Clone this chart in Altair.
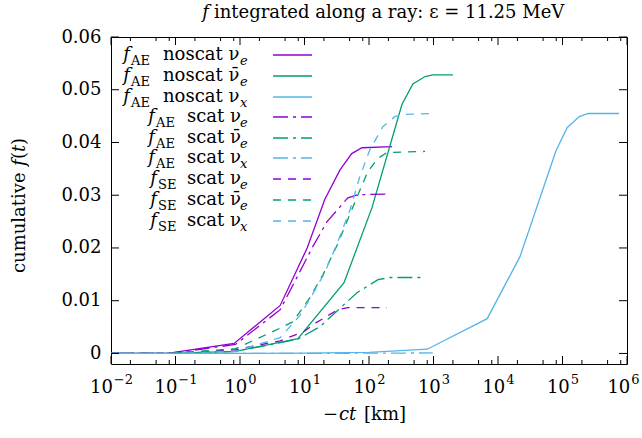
import altair as alt
import pandas as pd

# ---------------- data ----------------
x_ae_noscat_nue = [0.01, 0.075, 0.81, 4.2, 11, 20.6, 35.5, 54, 78, 228]
y_ae_noscat_nue = [0, 0, 0.0019, 0.0091, 0.0200, 0.0292, 0.0348, 0.0379, 0.0390, 0.0392]

x_ae_noscat_nuebar = [0.01, 0.08, 0.85, 7.9, 41, 111, 324, 479, 740, 975, 2000]
y_ae_noscat_nuebar = [0, 0, 0.0004, 0.0028, 0.0134, 0.0276, 0.0472, 0.0511, 0.0525, 0.0528, 0.0528]

x_ae_noscat_nux = [0.01, 1, 10, 100, 800, 6800, 22000, 79000, 118000, 182000, 250000, 750000]
y_ae_noscat_nux = [0, 0, 0.00005, 0.0002, 0.0008, 0.0066, 0.0184, 0.0384, 0.0428, 0.0449, 0.0455, 0.0455]

x_ae_scat_nue = [0.01, 0.08, 0.85, 4.2, 13.5, 22.4, 35.5, 47, 67, 183]
y_ae_scat_nue = [0, 0, 0.0017, 0.0083, 0.0203, 0.0250, 0.0278, 0.0295, 0.0301, 0.0302]

x_ae_scat_nuebar = [0.01, 0.08, 0.85, 7.9, 17.4, 65, 138, 214, 740]
y_ae_scat_nuebar = [0, 0, 0.0004, 0.0027, 0.0051, 0.0115, 0.0140, 0.0144, 0.0144]

x_ae_scat_nux = [0.01, 1, 10, 100, 975]
y_ae_scat_nux = [0, 0, 0.00002, 0.00005, 0.0001]

x_se_scat_nue = [0.01, 0.08, 0.85, 4.2, 10, 15, 33, 47, 190]
y_se_scat_nue = [0, 0, 0.0007, 0.0024, 0.0042, 0.0058, 0.0083, 0.0087, 0.0087]

x_se_scat_nuebar = [0.01, 0.08, 0.85, 4.2, 6.6, 12, 19.5, 32, 51, 67, 96, 138, 190, 740]
y_se_scat_nuebar = [0, 0, 0.0009, 0.0048, 0.0060, 0.0105, 0.0150, 0.0205, 0.0265, 0.0300, 0.0345, 0.0370, 0.0381, 0.0383]

x_se_scat_nux = [0.01, 0.08, 0.85, 4.2, 8.5, 13, 20, 32, 51, 72, 103, 164, 250, 340, 975]
y_se_scat_nux = [0, 0, 0.0004, 0.0030, 0.0072, 0.0110, 0.0150, 0.0208, 0.0273, 0.0335, 0.0386, 0.0430, 0.0449, 0.0453, 0.0455]

x_major_ticks = [0.01, 0.1, 1, 10, 100, 1e3, 1e4, 1e5, 1e6]
x_minor_mult = [2, 5, 8]
y_ticks = [0, 0.01, 0.02, 0.03, 0.04, 0.05, 0.06]
x_tick_exponents = ["−2", "−1", "0", "1", "2", "3", "4", "5", "6"]

PURPLE, GREEN, BLUE = "#9400D3", "#009E73", "#56B4E9"
SOLID, DASHDOT, DASHED = None, [15, 5, 3, 5], [8, 7]

NUBAR = "ν\u0304"
series = [
    # (x, y, color, dash, f-sub, main text, nu-sub, f-left, sub-left, main-left)
    (x_ae_noscat_nue, y_ae_noscat_nue, PURPLE, SOLID, "AE", "noscat ν", "e", 117, 131, 163),
    (x_ae_noscat_nuebar, y_ae_noscat_nuebar, GREEN, SOLID, "AE", "noscat " + NUBAR, "e", 117, 131, 163),
    (x_ae_noscat_nux, y_ae_noscat_nux, BLUE, SOLID, "AE", "noscat ν", "x", 117, 131, 163),
    (x_ae_scat_nue, y_ae_scat_nue, PURPLE, DASHDOT, "AE", "scat ν", "e", 142, 156, 187),
    (x_ae_scat_nuebar, y_ae_scat_nuebar, GREEN, DASHDOT, "AE", "scat " + NUBAR, "e", 142, 156, 187),
    (x_ae_scat_nux, y_ae_scat_nux, BLUE, DASHDOT, "AE", "scat ν", "x", 142, 156, 187),
    (x_se_scat_nue, y_se_scat_nue, PURPLE, DASHED, "SE", "scat ν", "e", 145, 158, 187),
    (x_se_scat_nuebar, y_se_scat_nuebar, GREEN, DASHED, "SE", "scat " + NUBAR, "e", 145, 158, 187),
    (x_se_scat_nux, y_se_scat_nux, BLUE, DASHED, "SE", "scat ν", "x", 145, 158, 187),
]

# ---------------- layout ----------------
W, H = 516, 327
X0, Y0 = 111, 37
FONT = "DejaVu Serif"
FS = 18
SUB = 13

xscale = alt.Scale(type="log", domain=[0.01, 1e6], nice=False)
yscale = alt.Scale(domain=[-0.002, 0.06], nice=False, zero=False)
dummy = pd.DataFrame({"a": [0]})

x_axis = alt.Axis(values=x_major_ticks, labels=False, ticks=False, domain=False, grid=False, title=None)
y_axis = alt.Axis(values=y_ticks, labelExpr="datum.value == 0 ? '0' : format(datum.value, '.2f')",
                  ticks=False, domain=False, grid=False, title=None, labelFont=FONT,
                  labelFontSize=FS, labelPadding=10, labelColor="black")

layers = []
for i, (xs, ys, col, dash, fsub, main, nsub, fl, sl, ml) in enumerate(series):
    df = pd.DataFrame({"x": xs, "y": ys})
    mk = dict(color=col, strokeWidth=1.3, clip=True)
    if dash is not None:
        mk["strokeDash"] = dash
    layers.append(
        alt.Chart(df).mark_line(**mk).encode(
            x=alt.X("x:Q", scale=xscale, axis=x_axis),
            y=alt.Y("y:Q", scale=yscale, axis=y_axis),
        )
    )


def txt(s, px, py, size=FS, italic=False, align="left", angle=None, baseline="middle"):
    kw = dict(text=s, font=FONT, fontSize=size, align=align, baseline=baseline, color="black")
    if italic:
        kw["fontStyle"] = "italic"
    if angle is not None:
        kw["angle"] = angle
    return alt.Chart(dummy).mark_text(**kw).encode(x=alt.value(px - X0), y=alt.value(py - Y0))


# legend
row_y = [55, 76, 97, 117, 138, 158, 179, 200, 221]
for i, (xs, ys, col, dash, fsub, main, nsub, fl, sl, ml) in enumerate(series):
    py = row_y[i]
    mk = dict(color=col, strokeWidth=1.5)
    if dash is not None:
        mk["strokeDash"] = dash
    layers.append(alt.Chart(dummy).mark_rule(**mk).encode(
        x=alt.value(273 - X0), x2=alt.value(312 - X0), y=alt.value(py - Y0)))
    layers.append(txt("f", sl - 1, py, italic=True, align="right"))
    layers.append(txt(fsub, sl, py + 6, size=SUB))
    layers.append(txt(main, ml, py))
    layers.append(txt(nsub, 240, py + 6, size=SUB, italic=True))

# ticks (inward, mirrored)
minor = [m * t for t in x_major_ticks[:-1] for m in x_minor_mult]
tick_major = pd.DataFrame({"v": x_major_ticks})
tick_minor = pd.DataFrame({"v": minor})
tick_y = pd.DataFrame({"v": y_ticks})
for dfv, ln in ((tick_major, 8), (tick_minor, 4)):
    layers.append(alt.Chart(dfv).mark_rule(color="black", strokeWidth=1).encode(
        x=alt.X("v:Q", scale=xscale, axis=x_axis), y=alt.value(H), y2=alt.value(H - ln)))
    layers.append(alt.Chart(dfv).mark_rule(color="black", strokeWidth=1).encode(
        x=alt.X("v:Q", scale=xscale, axis=x_axis), y=alt.value(0), y2=alt.value(ln)))
layers.append(alt.Chart(tick_y).mark_rule(color="black", strokeWidth=1).encode(
    y=alt.Y("v:Q", scale=yscale, axis=y_axis), x=alt.value(0), x2=alt.value(8)))
layers.append(alt.Chart(tick_y).mark_rule(color="black", strokeWidth=1).encode(
    y=alt.Y("v:Q", scale=yscale, axis=y_axis), x=alt.value(W), x2=alt.value(W - 8)))

# x tick labels: "10" with a raised exponent
W10 = 2 * 0.636 * FS
for k, (tv, ex) in enumerate(zip(x_major_ticks, x_tick_exponents)):
    wexp = sum((0.838 if c == "−" else 0.636) for c in ex) * SUB
    shift = (W10 - wexp) / 2
    if k == len(x_major_ticks) - 1:
        shift -= 4
    d = pd.DataFrame({"v": [tv]})
    layers.append(alt.Chart(d).mark_text(text="10", font=FONT, fontSize=FS, align="right",
                                          baseline="middle", dx=shift, color="black").encode(
        x=alt.X("v:Q", scale=xscale, axis=x_axis), y=alt.value(388 - Y0)))
    layers.append(alt.Chart(d).mark_text(text=ex, font=FONT, fontSize=SUB, align="left",
                                          baseline="middle", dx=shift + 1, color="black").encode(
        x=alt.X("v:Q", scale=xscale, axis=x_axis), y=alt.value(380 - Y0)))

# title
layers.append(txt("f", 209, 13, italic=True, align="right"))
layers.append(txt("integrated along a ray: ε = 11.25 MeV", 214, 13))
# x axis title
layers.append(txt("−", 323, 415))
layers.append(txt("ct", 339, 415, italic=True))
layers.append(txt("[km]", 364, 415))
# y axis title
layers.append(txt("cumulative", 20, 273, angle=270))
layers.append(txt("f", 20, 166, angle=270, italic=True))
layers.append(txt("(", 20, 159, angle=270))
layers.append(txt("t", 20, 152, angle=270, italic=True))
layers.append(txt(")", 20, 145, angle=270))

chart = alt.layer(*layers).properties(
    width=W, height=H,
    autosize=alt.AutoSizeParams(type="none"),
    padding={"left": X0, "top": Y0, "right": 642 - X0 - W, "bottom": 438 - Y0 - H},
    background="white",
).configure_view(stroke="black", strokeWidth=1)

chart.save("out.html", embed_options={"renderer": "svg", "actions": False})
